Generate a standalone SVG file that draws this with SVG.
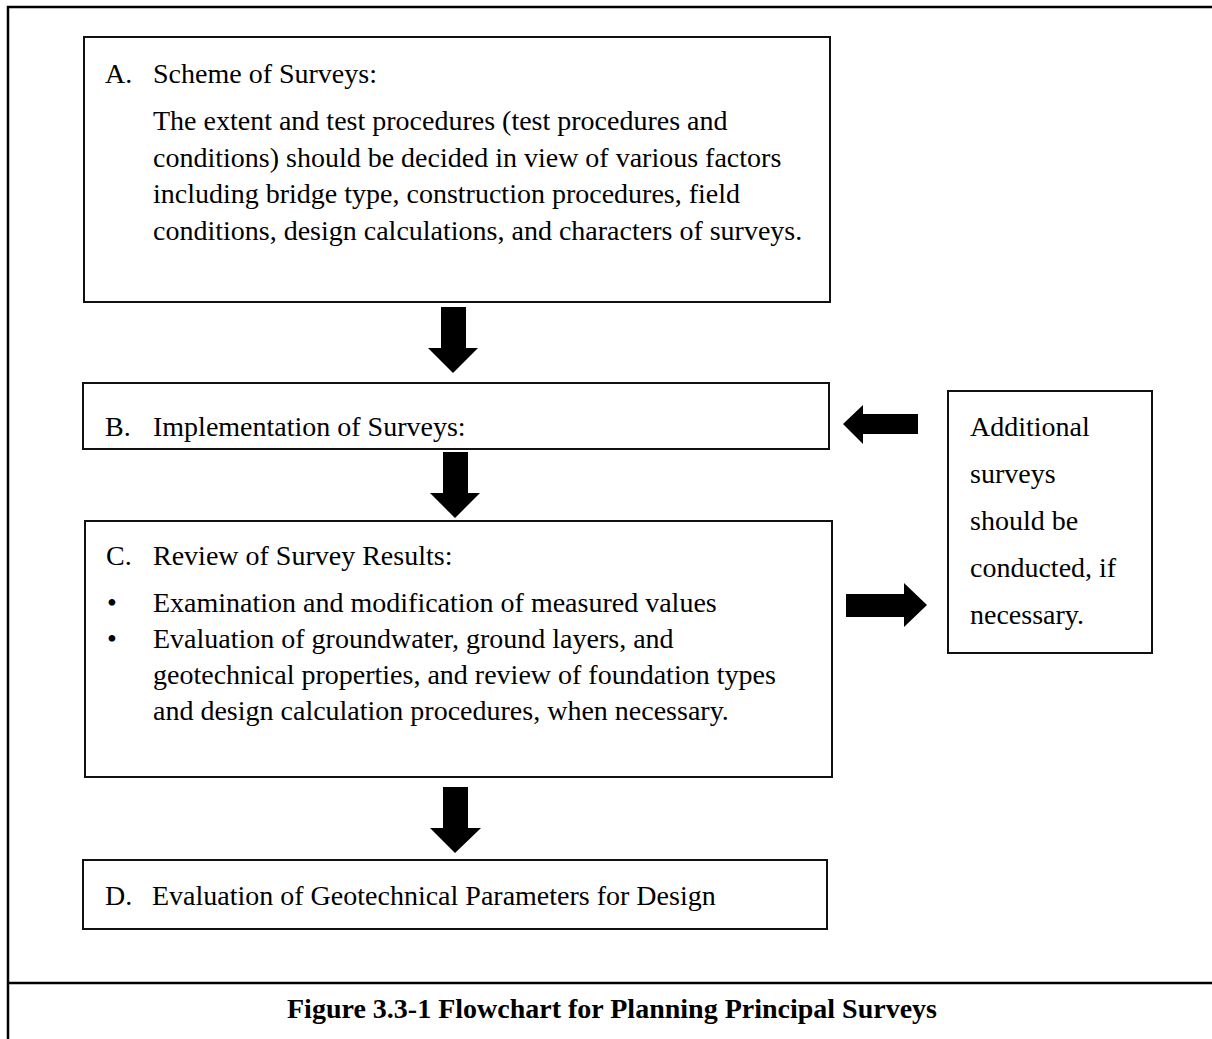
<svg xmlns="http://www.w3.org/2000/svg" width="1212" height="1039" viewBox="0 0 1212 1039">
  <style>
    .frame { fill: none; stroke: #000; stroke-width: 2.5; }
    .box { fill: #fff; stroke: #111; stroke-width: 2; }
    .t { font-family: "Liberation Serif", "Times New Roman", serif; font-size: 28px; fill: #000; }
    .cap { font-family: "Liberation Serif", "Times New Roman", serif; font-size: 28px; font-weight: bold; fill: #000; }
    .arrow { fill: #000; stroke: none; }
  </style>

  <!-- outer frame and caption divider -->
  <path class="frame" d="M8,1039 V7 H1212"/>
  <line class="frame" x1="8" y1="983" x2="1212" y2="983"/>

  <g id="node-a">
    <rect class="box" x="84" y="37" width="746" height="265"/>
    <text class="t" x="105" y="83">A.</text>
    <text class="t" x="153" y="83">Scheme of Surveys:</text>
    <text class="t" x="153" y="130">The extent and test procedures (test procedures and</text>
    <text class="t" x="153" y="167">conditions) should be decided in view of various factors</text>
    <text class="t" x="153" y="203">including bridge type, construction procedures, field</text>
    <text class="t" x="153" y="240">conditions, design calculations, and characters of surveys.</text>
  </g>

  <g id="node-b">
    <rect class="box" x="83" y="383" width="746" height="66"/>
    <text class="t" x="105" y="436">B.</text>
    <text class="t" x="153" y="436">Implementation of Surveys:</text>
  </g>

  <g id="node-c">
    <rect class="box" x="85" y="521" width="747" height="256"/>
    <text class="t" x="106" y="565">C.</text>
    <text class="t" x="153" y="565">Review of Survey Results:</text>
    <text class="t" x="107" y="612">•</text>
    <text class="t" x="153" y="612">Examination and modification of measured values</text>
    <text class="t" x="107" y="648">•</text>
    <text class="t" x="153" y="648">Evaluation of groundwater, ground layers, and</text>
    <text class="t" x="153" y="684">geotechnical properties, and review of foundation types</text>
    <text class="t" x="153" y="720">and design calculation procedures, when necessary.</text>
  </g>

  <g id="node-d">
    <rect class="box" x="83" y="860" width="744" height="69"/>
    <text class="t" x="105" y="905">D.</text>
    <text class="t" x="152" y="905">Evaluation of Geotechnical Parameters for Design</text>
  </g>

  <g id="node-extra">
    <rect class="box" x="948" y="391" width="204" height="262"/>
    <text class="t" x="970" y="436">Additional</text>
    <text class="t" x="970" y="483">surveys</text>
    <text class="t" x="970" y="530">should be</text>
    <text class="t" x="970" y="577">conducted, if</text>
    <text class="t" x="970" y="624">necessary.</text>
  </g>

  <g id="connectors">
    <!-- A to B -->
    <polygon class="arrow" points="441,307 466,307 466,348 478,348 453,373 428,348 441,348"/>
    <!-- B to C -->
    <polygon class="arrow" points="443,452 468,452 468,493 480,493 455,518 430,493 443,493"/>
    <!-- C to D -->
    <polygon class="arrow" points="443,787 468,787 468,828 481,828 455,853 430,828 443,828"/>
    <!-- additional surveys back to B -->
    <polygon class="arrow" points="918,414 918,434 863,434 863,444 843,424 863,405 863,414"/>
    <!-- C out to additional surveys -->
    <polygon class="arrow" points="846,594 904,594 904,583 927,605 904,627 904,617 846,617"/>
  </g>

  <text class="cap" x="612" y="1018" text-anchor="middle">Figure 3.3-1 Flowchart for Planning Principal Surveys</text>
</svg>
